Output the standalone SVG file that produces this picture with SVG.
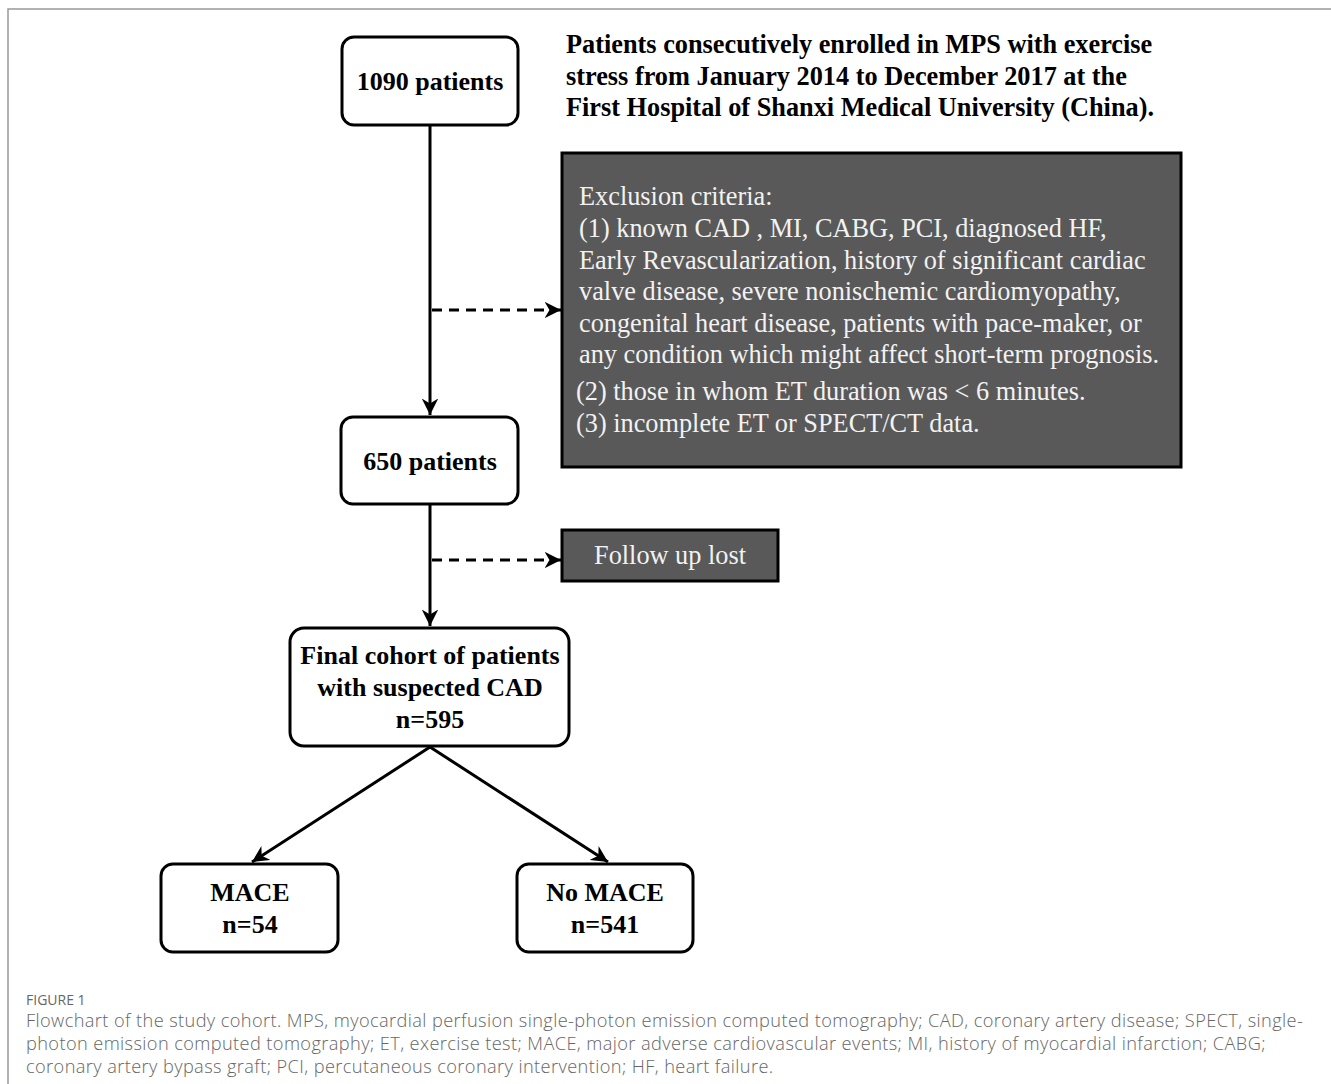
<svg xmlns="http://www.w3.org/2000/svg" width="1331" height="1084" viewBox="0 0 1331 1084">
<style>
.box{fill:#fff;stroke:#000;stroke-width:3}
.dark{fill:#595959;stroke:#000;stroke-width:3}
.bt{font-family:"Liberation Serif","Times New Roman",serif;font-weight:bold;font-size:26px;fill:#000;text-anchor:middle}
.title{font-family:"Liberation Serif","Times New Roman",serif;font-weight:bold;font-size:26.3px;fill:#000}
.wt{font-family:"Liberation Serif","Times New Roman",serif;font-size:26.3px;fill:#f2f2f2}
.line{fill:none;stroke:#000;stroke-width:3}
.dash{stroke-dasharray:10 7}
.cap{font-family:"Open Sans","Noto Sans",sans-serif;font-size:18.2px;font-weight:300;letter-spacing:0.4px;fill:#666}
</style>
<defs>
<marker id="arr" viewBox="0 0 10 10" refX="10" refY="5" markerWidth="5.5" markerHeight="5.5" markerUnits="strokeWidth" orient="auto">
<path d="M0,0 L10,5 L0,10 L3,5 z" fill="#000"/>
</marker>
</defs>
<path d="M8,1084 V9 H1331" fill="none" stroke="#999" stroke-width="1.5"/>
<g id="title">
<text class="title" x="566" y="53">Patients consecutively enrolled in MPS with exercise</text>
<text class="title" x="566" y="85">stress from January 2014 to December 2017 at the</text>
<text class="title" x="566" y="116">First Hospital of Shanxi Medical University (China).</text>
</g>
<g id="n1090"><rect class="box" x="342" y="37" width="176" height="88" rx="12"/><text class="bt" x="430" y="90">1090 patients</text></g>
<g id="exclusion"><rect class="dark" x="562" y="153" width="619" height="314"/>
<text class="wt" x="579" y="205">Exclusion criteria:</text>
<text class="wt" x="579" y="237">(1) known CAD , MI, CABG, PCI, diagnosed HF,</text>
<text class="wt" x="579" y="269">Early Revascularization, history of significant cardiac</text>
<text class="wt" x="579" y="300">valve disease, severe nonischemic cardiomyopathy,</text>
<text class="wt" x="579" y="332">congenital heart disease, patients with pace-maker, or</text>
<text class="wt" x="579" y="363">any condition which might affect short-term prognosis.</text>
<text class="wt" x="576" y="400">(2) those in whom ET duration was &lt; 6 minutes.</text>
<text class="wt" x="576" y="432">(3) incomplete ET or SPECT/CT data.</text>
</g>
<g id="n650"><rect class="box" x="341" y="417" width="177" height="87" rx="12"/><text class="bt" x="430" y="470">650 patients</text></g>
<g id="lost"><rect class="dark" x="562" y="530" width="216" height="51"/><text class="wt" x="670" y="564" text-anchor="middle">Follow up lost</text></g>
<g id="final"><rect class="box" x="290" y="628" width="279" height="118" rx="14"/>
<text class="bt" x="430" y="664">Final cohort of patients</text>
<text class="bt" x="430" y="696">with suspected CAD</text>
<text class="bt" x="430" y="728">n=595</text></g>
<g id="mace"><rect class="box" x="161" y="864" width="177" height="88" rx="12"/>
<text class="bt" x="250" y="901">MACE</text><text class="bt" x="250" y="933">n=54</text></g>
<g id="nomace"><rect class="box" x="517" y="864" width="176" height="88" rx="12"/>
<text class="bt" x="605" y="901">No MACE</text><text class="bt" x="605" y="933">n=541</text></g>
<g id="connectors">
<path class="line" d="M430,125 V415" marker-end="url(#arr)"/>
<path class="line dash" d="M432,310 H561" marker-end="url(#arr)"/>
<path class="line" d="M430,504 V626" marker-end="url(#arr)"/>
<path class="line dash" d="M432,560 H561" marker-end="url(#arr)"/>
<path class="line" d="M430,747 L252,862" marker-end="url(#arr)"/>
<path class="line" d="M430,747 L608,862" marker-end="url(#arr)"/>
</g>
<g id="caption">
<text x="26" y="1005" font-family="'Open Sans','Noto Sans',sans-serif" font-size="14" fill="#666">FIGURE 1</text>
<text class="cap" x="26" y="1027">Flowchart of the study cohort. MPS, myocardial perfusion single-photon emission computed tomography; CAD, coronary artery disease; SPECT, single-</text>
<text class="cap" x="26" y="1050">photon emission computed tomography; ET, exercise test; MACE, major adverse cardiovascular events; MI, history of myocardial infarction; CABG;</text>
<text class="cap" x="26" y="1073">coronary artery bypass graft; PCI, percutaneous coronary intervention; HF, heart failure.</text>
</g>
</svg>
